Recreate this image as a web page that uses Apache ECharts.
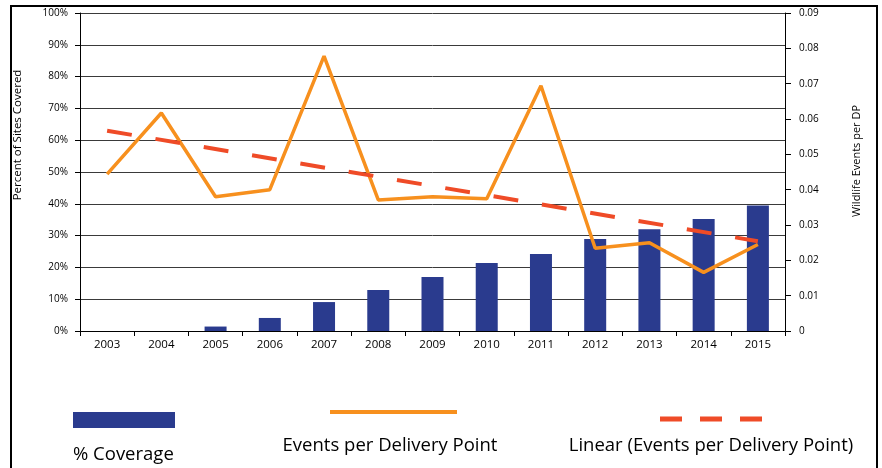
<!DOCTYPE html>
<html><head><meta charset="utf-8">
<script src="https://cdn.jsdelivr.net/npm/echarts@6/dist/echarts.min.js"></script>
<style>html,body{margin:0;padding:0;background:#fff}#c{width:882px;height:468px}</style>
</head><body><div id="c"></div>
<script>
var years = ['2003','2004','2005','2006','2007','2008','2009','2010','2011','2012','2013','2014','2015'];
var coverage = [0, 0, 1.4, 4.1, 9.1, 12.9, 17.0, 21.4, 24.2, 28.9, 32.0, 35.2, 39.5];
var eventsPerDP = [0.0444, 0.0617, 0.0380, 0.0400, 0.0778, 0.0371, 0.0380, 0.0374, 0.0694, 0.0234, 0.0250, 0.0166, 0.0245];
var trendLine = [0.0567, null, null, null, null, null, null, null, null, null, null, null, 0.0254];
var leftTicks = [0, 100, 10];
var rightTicks = [0, 0.09, 0.01];

var FONT = '"Open Sans", "Noto Sans", sans-serif';
var chart = echarts.init(document.getElementById('c'));
chart.setOption({
  animation: false,
  backgroundColor: '#fff',
  grid: {left: 80, right: 97, top: 13, bottom: 137},
  xAxis: {
    type: 'category', data: years, boundaryGap: true,
    axisLine: {lineStyle: {color: '#000', width: 1}},
    axisTick: {show: true, length: 5, lineStyle: {color: '#000'}},
    axisLabel: {color: '#000', fontSize: 11.5, margin: 8, fontFamily: FONT}
  },
  yAxis: [{
    type: 'value', min: leftTicks[0], max: leftTicks[1], interval: leftTicks[2],
    axisLine: {show: true, lineStyle: {color: '#000'}},
    axisTick: {show: true, length: 5, lineStyle: {color: '#000'}},
    axisLabel: {color: '#000', fontSize: 10, margin: 12, formatter: '{value}%', fontFamily: FONT},
    splitLine: {show: true, lineStyle: {color: '#3a3a3a', width: 1}}
  }, {
    type: 'value', min: rightTicks[0], max: rightTicks[1], interval: rightTicks[2],
    axisLine: {show: true, lineStyle: {color: '#000'}},
    axisTick: {show: true, length: 6, lineStyle: {color: '#000'}},
    axisLabel: {color: '#000', fontSize: 10, margin: 14, fontFamily: FONT,
      formatter: function (v) { return v === 0 ? '0' : v.toFixed(2); }},
    splitLine: {show: false}
  }],
  series: [{
    name: '% Coverage', type: 'bar', data: coverage, yAxisIndex: 0,
    barWidth: 22,
    itemStyle: {color: '#2a3b8e', borderWidth: 0}
  }, {
    name: 'Events per Delivery Point', type: 'line', data: eventsPerDP, yAxisIndex: 1,
    symbol: 'none', lineStyle: {color: '#f7901e', width: 3.5}
  }, {
    name: 'Linear (Events per Delivery Point)', type: 'line', data: trendLine, yAxisIndex: 1,
    connectNulls: true, symbol: 'none',
    lineStyle: {color: '#ef4b27', width: 4, type: [25, 24]}
  }],
  graphic: [
    {type: 'rect', shape: {x: 11, y: 6, width: 866, height: 470}, style: {fill: 'none', stroke: '#000', lineWidth: 2}, silent: true},
    {type: 'text', x: 18, y: 135, rotation: Math.PI / 2, style: {text: 'Percent of Sites Covered', fontSize: 11.5, fontFamily: FONT, fill: '#000', align: 'center', verticalAlign: 'middle'}},
    {type: 'text', x: 857, y: 161, rotation: Math.PI / 2, style: {text: 'Wildlife Events per DP', fontSize: 11, fontFamily: FONT, fill: '#000', align: 'center', verticalAlign: 'middle'}},
    {type: 'rect', shape: {x: 73, y: 412, width: 102, height: 16}, style: {fill: '#2a3b8e'}},
    {type: 'line', shape: {x1: 330, y1: 412, x2: 457, y2: 412}, style: {stroke: '#f7901e', lineWidth: 4}},
    {type: 'line', shape: {x1: 660, y1: 419, x2: 762, y2: 419}, style: {stroke: '#ef4b27', lineWidth: 5, lineDash: [22, 18]}},
    {type: 'text', x: 73, y: 455, style: {text: '% Coverage', fontSize: 18.5, fontFamily: FONT, fill: '#000', align: 'left', verticalAlign: 'middle'}},
    {type: 'text', x: 390, y: 446, style: {text: 'Events per Delivery Point', fontSize: 18.5, fontFamily: FONT, fill: '#000', align: 'center', verticalAlign: 'middle'}},
    {type: 'text', x: 711, y: 446, style: {text: 'Linear (Events per Delivery Point)', fontSize: 18.5, fontFamily: FONT, fill: '#000', align: 'center', verticalAlign: 'middle'}}
  ]
});
</script></body></html>
